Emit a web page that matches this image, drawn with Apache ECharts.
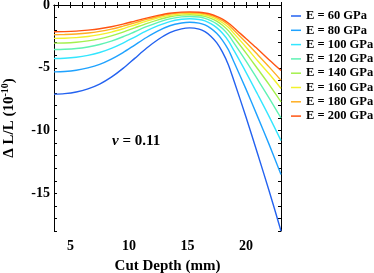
<!DOCTYPE html>
<html>
<head>
<meta charset="utf-8">
<script src="https://cdn.jsdelivr.net/npm/echarts@6/dist/echarts.min.js"></script>
<style>html,body{margin:0;padding:0;background:#fff}#c{width:374px;height:273px}</style>
</head>
<body>
<div id="c"></div>
<script>
const depth = [3.6,4.5,5.5,6.5,7.5,8.5,9.5,10.5,11.5,12.5,13.5,14.5,15.2,16,16.5,17,17.5,18,18.5,19,20,21,22,23];
const E60  = [-7.10,-7.06,-6.93,-6.68,-6.30,-5.75,-5.05,-4.25,-3.45,-2.75,-2.20,-1.90,-1.82,-1.92,-2.12,-2.48,-3.00,-3.75,-4.75,-6.10,-8.90,-11.85,-14.85,-18.00];
const E80  = [-5.33,-5.30,-5.20,-5.01,-4.73,-4.31,-3.79,-3.19,-2.59,-2.06,-1.65,-1.43,-1.37,-1.44,-1.59,-1.86,-2.25,-2.81,-3.56,-4.58,-6.68,-8.89,-11.14,-13.50];
const E100 = [-4.26,-4.24,-4.16,-4.01,-3.78,-3.45,-3.03,-2.55,-2.07,-1.65,-1.32,-1.14,-1.09,-1.15,-1.27,-1.49,-1.80,-2.25,-2.85,-3.66,-5.34,-7.11,-8.91,-10.80];
const E120 = [-3.55,-3.53,-3.47,-3.34,-3.15,-2.88,-2.53,-2.13,-1.73,-1.38,-1.10,-0.95,-0.91,-0.96,-1.06,-1.24,-1.50,-1.88,-2.38,-3.05,-4.45,-5.93,-7.43,-9.00];
const E140 = [-3.04,-3.03,-2.97,-2.86,-2.70,-2.46,-2.16,-1.82,-1.48,-1.18,-0.94,-0.81,-0.78,-0.82,-0.91,-1.06,-1.29,-1.61,-2.04,-2.61,-3.81,-5.08,-6.36,-7.71];
const E160 = [-2.66,-2.65,-2.60,-2.51,-2.36,-2.16,-1.89,-1.59,-1.29,-1.03,-0.83,-0.71,-0.68,-0.72,-0.80,-0.93,-1.13,-1.41,-1.78,-2.29,-3.34,-4.44,-5.50,-6.65];
const E180 = [-2.37,-2.35,-2.31,-2.23,-2.10,-1.92,-1.68,-1.42,-1.15,-0.92,-0.73,-0.63,-0.61,-0.64,-0.71,-0.83,-1.00,-1.25,-1.58,-2.03,-2.97,-3.95,-4.95,-6.00];
const E200 = [-2.13,-2.12,-2.08,-2.00,-1.89,-1.73,-1.52,-1.28,-1.04,-0.83,-0.66,-0.57,-0.55,-0.58,-0.64,-0.74,-0.90,-1.13,-1.43,-1.83,-2.67,-3.50,-4.38,-5.22];
const seriesNames = ['E = 60 GPa','E = 80 GPa','E = 100 GPa','E = 120 GPa','E = 140 GPa','E = 160 GPa','E = 180 GPa','E = 200 GPa'];
const seriesData = [E60, E80, E100, E120, E140, E160, E180, E200];
const colors = ['#2362f0','#1fa2ff','#33e6ff','#5ff2b4','#a4f04c','#f2f22c','#ffae22','#ff5412'];
const xTickLabels = [5, 10, 15, 20];
const yTickLabels = [0, -5, -10, -15];
const xMinorTicks = [4,5,6,7,8,9,10,11,12,13,14,15,16,17,18,19,20,21,22,23];
const yMinorTicks = [0,-1,-2,-3,-4,-5,-6,-7,-8,-9,-10,-11,-12,-13,-14,-15,-16,-17,-18];

const FONT = '"Liberation Serif","Times New Roman",serif';
const chart = echarts.init(document.getElementById('c'), null, {renderer:'canvas'});
const axLine = {show:true, lineStyle:{color:'#000', width:1}};
chart.setOption({
  animation:false,
  backgroundColor:'#fff',
  grid:{left:54, right:93, top:5, bottom:42, containLabel:false, outerBoundsMode:'none'},
  legend:{
    orient:'vertical', left:286, top:4, icon:'rect', itemWidth:10, itemHeight:1.5, itemGap:0.3,
    textStyle:{fontFamily:FONT, fontWeight:'bold', fontSize:12.5, color:'#000', lineHeight:14},
    data:seriesNames
  },
  xAxis:[{
    type:'value', min:3.6, max:23, position:'bottom',
    axisLine:axLine, splitLine:{show:false},
    axisTick:{show:true, inside:true, length:3, customValues:xMinorTicks, lineStyle:{color:'#000'}},
    axisLabel:{customValues:xTickLabels, fontFamily:FONT, fontWeight:'bold', fontSize:14, color:'#000', margin:8},
    name:'Cut Depth (mm)', nameLocation:'middle', nameGap:28,
    nameTextStyle:{fontFamily:FONT, fontWeight:'bold', fontSize:15, color:'#000'}
  },{
    type:'value', min:3.6, max:23, position:'top',
    axisLine:axLine, splitLine:{show:false},
    axisTick:{show:true, inside:true, length:3, customValues:xMinorTicks, lineStyle:{color:'#000'}},
    axisLabel:{show:false}
  }],
  yAxis:[{
    type:'value', min:-18, max:0, position:'left',
    axisLine:axLine, splitLine:{show:false},
    axisTick:{show:true, inside:true, length:3, customValues:yMinorTicks, lineStyle:{color:'#000'}},
    axisLabel:{customValues:yTickLabels, fontFamily:FONT, fontWeight:'bold', fontSize:14, color:'#000', margin:4},
    name:'{a|Δ L/L (10}{s|-10}{a|)}', nameLocation:'middle', nameGap:36, nameRotate:90,
    nameTextStyle:{rich:{
      a:{fontFamily:FONT, fontWeight:'bold', fontSize:15, color:'#000'},
      s:{fontFamily:FONT, fontWeight:'bold', fontSize:10, color:'#000', padding:[0,0,8,0]}
    }}
  },{
    type:'value', min:-18, max:0, position:'right',
    axisLine:axLine, splitLine:{show:false},
    axisTick:{show:true, inside:true, length:3, customValues:yMinorTicks, lineStyle:{color:'#000'}},
    axisLabel:{show:false}
  }],
  series: seriesNames.map((n,i)=>({
    name:n, type:'line', smooth:0.3, showSymbol:false, symbol:'none',
    xAxisIndex:0, yAxisIndex:0,
    color:colors[i], lineStyle:{width:1.4, color:colors[i]},
    data: depth.map((d,j)=>[d, seriesData[i][j]])
  })),
  graphic:[{
    type:'text', left:112, top:134,
    style:{
      text:'{i|ν}{b| = 0.11}',
      rich:{
        i:{fontFamily:FONT, fontStyle:'italic', fontWeight:'bold', fontSize:15, fill:'#000'},
        b:{fontFamily:FONT, fontWeight:'bold', fontSize:15, fill:'#000'}
      }
    }
  }]
});
</script>
</body>
</html>
